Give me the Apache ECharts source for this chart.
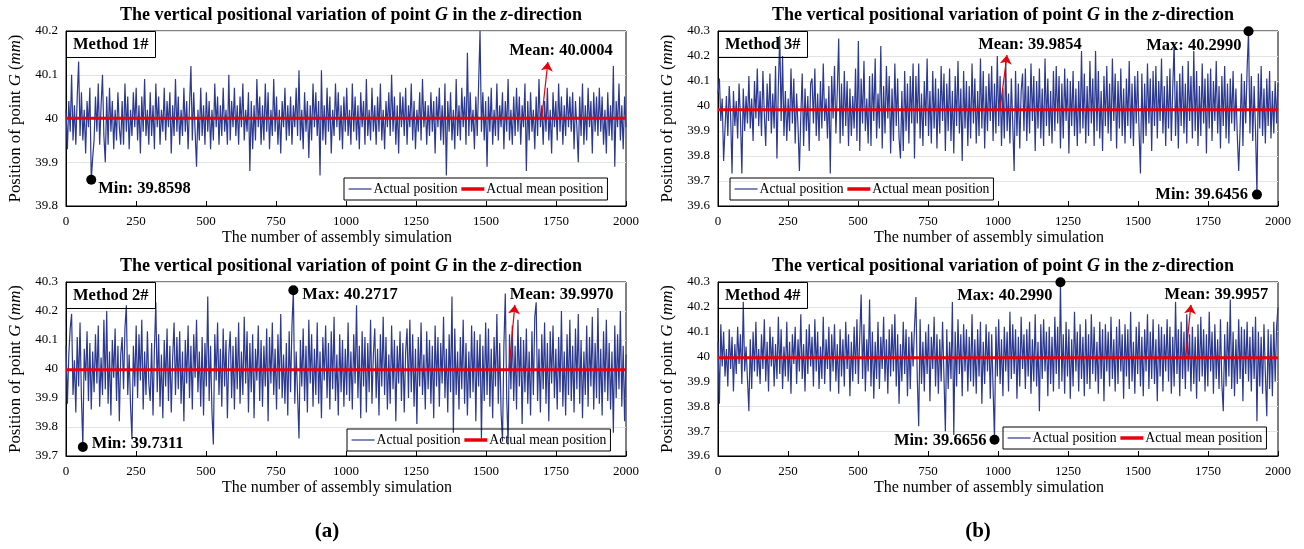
<!DOCTYPE html>
<html>
<head>
<meta charset="utf-8">
<title>Vertical positional variation of point G</title>
<script src="https://cdn.jsdelivr.net/npm/echarts@6/dist/echarts.min.js"></script>
<style>
  html, body { margin: 0; padding: 0; background: #fff; }
  #chart { width: 1304px; height: 549px; }
</style>
</head>
<body>
<div id="chart"></div>
<script>
// deviation of point G from 40 mm, in 0.01 mm, one value every ~5 simulations
const method1Dev = [
  2,-7,4,-3,10,-5,3,-6,5,13,-4,6,-5,2,-8,4,-2,7,-14.02,-9,
  -5,5,-3,8,-6,3,10,-4,-10,5,-6,7,-3,4,-7,2,-5,6,-2,-6,
  4,-6,8,-3,5,-7,2,-4,6,-2,7,-5,3,-8,5,-3,9,-4,2,-6,
  6,-4,3,-7,8,-2,5,-6,2,-3,7,-5,4,-2,6,-8,3,-4,9,-3,
  5,-6,2,-4,7,-3,4,-7,3,12,-5,6,-3,-11,2,-5,7,-4,3,-6,
  6,-3,4,-7,2,-5,8,-2,5,-6,3,-4,7,-3,2,-6,10,-5,4,-2,
  7,-4,3,-6,5,-2,8,-5,2,-3,6,-12,4,-7,3,-5,9,-2,5,-6,
  3,-5,8,-3,6,-7,2,-4,9,-3,5,-6,2,-8,4,-2,7,-5,3,-4,
  5,-6,3,-2,7,-4,11,-5,2,-7,6,-3,4,-9,3,-5,8,-2,6,-4,
  4,-13,11,-5,3,-6,7,-3,5,-8,2,-4,8,-2,6,-5,3,-7,5,-3,
  7,-4,2,-6,8,-3,5,-5,3,-7,6,-2,4,-6,9,-4,2,-5,7,-3,
  3,-6,5,-3,8,-5,2,-7,4,-2,6,-4,10,-3,5,-6,3,-8,6,-2,
  5,-4,7,-6,3,-2,8,-5,4,-7,2,-3,6,-5,9,-2,4,-6,3,-4,
  6,-3,4,-8,5,-2,7,-5,3,-6,8,-13,4,-3,6,-5,2,-7,9,-4,
  3,-5,7,-2,5,-6,15,-4,6,-3,2,-7,5,-4,8,20.03,-3,6,-5,4,
  -11,5,-3,7,-6,2,-4,8,-5,3,-2,6,-7,4,-3,9,-5,2,-6,5,
  -4,7,-3,5,-6,3,-2,8,-12,4,-5,6,-3,2,-7,5,-4,9,-2,3,
  -6,4,-3,7,-5,2,-8,6,-2,4,-5,8,-3,5,-6,3,-4,7,-2,5,
  -3,6,-7,4,-2,-10,5,-4,8,-6,3,-5,7,-2,4,-8,6,-3,5,-4,
  7,-3,5,-6,2,-8,6,-4,3,-5,12,-11,4,-2,8,-5,3,-7,5,-2
];
const method2Dev = [
  8,-12,5,14,19,-9,3,-15,11,-6,16,-10,-26.89,7,-4,13,-11,9,-14,6,
  -8,12,-5,15,-13,4,-9,17,-7,20,-12,6,-16,10,-3,14,-11,8,-18,5,
  11,-7,14,22,-9,5,-13,-24,8,-6,15,-10,12,-4,17,-14,6,-9,13,-5,
  -11,9,-16,7,23,-8,12,-13,5,-17,10,-6,14,-11,8,-15,4,16,-9,11,
  -7,13,-12,6,-18,10,-5,15,-10,8,-14,12,-3,17,-8,6,-13,11,-16,9,
  -6,25,-11,8,-15,-26,12,-4,16,-9,7,-13,14,-6,10,-17,5,13,-10,8,
  -14,11,-7,16,-12,6,-9,18,-5,13,-15,9,-8,12,-17,7,-4,15,-11,10,
  -13,8,-6,14,-18,11,-5,16,-9,7,-14,12,-7,19,-10,5,-12,9,-16,13,
  -8,15,27.17,-12,6,-9,-24,10,-6,14,-11,8,-15,17,-5,12,-13,7,-9,16,
  -12,6,-17,11,-4,15,-10,9,-14,13,-7,18,-11,5,-16,12,-8,10,-13,7,
  -9,16,-11,6,-14,12,-5,22,-10,8,-17,13,-6,11,-15,9,-8,17,-12,5,
  14,-10,7,-16,12,-6,18,-9,11,-14,5,-12,15,-7,10,-18,8,-5,13,-11,
  9,-15,6,14,-10,17,-8,12,-13,7,-19,11,-6,16,-9,5,-14,13,-7,10,
  -12,8,-17,15,-6,11,-13,9,-5,18,-10,7,-15,12,-8,25,-22,14,-9,6,
  -14,11,-7,17,-12,9,-16,6,-10,15,-8,13,-18,10,-6,12,-24,8,-11,16,
  -9,14,-13,7,-17,11,-6,19,-12,9,-15,-25,8,26,-10,-26,12,-7,15,-11,
  8,-14,17,-6,11,-19,10,-8,14,-12,6,-16,13,-9,18,23,-11,7,-15,12,
  -7,16,-12,9,-18,13,-5,15,-10,7,-14,11,-8,20,-13,6,-16,12,-9,17,
  -11,8,-15,14,-7,19,-12,10,-17,6,-9,15,-13,11,-6,18,-14,9,-10,21,
  -12,7,-16,13,-8,17,-11,9,-14,6,-22,15,-10,12,-7,20,-13,8,-18,5
];
const method3Dev = [
  5,11,-6,3,-22,-9,4,-12,8,-4,-27,6,-8,2,-13,9,-5,-27,7,-10,
  4,-7,12,-9,3,-14,10,-5,15,-8,6,-12,14,-3,-16,9,-6,13,-11,5,
  -9,16,-21,8,28,-6,20,-12,6,-14,3,-10,15,-7,11,-15,5,-8,-26,-4,
  13,-16,7,-10,4,-18,9,11,-7,15,-12,5,-14,10,-9,17,-6,3,-13,8,
  -27,12,-5,16,-11,6,27,-15,9,-12,14,-8,10,-16,7,-12,4,-9,15,-14,
  26,-18,11,-7,18,-10,3,-15,12,-16,13,-6,19,-13,5,-9,24,-17,8,-11,
  16,-5,12,-19,7,-14,17,-8,11,-13,-21,6,-18,14,-10,9,-15,12,-7,17,
  -21,12,-7,17,-13,5,-16,10,-8,19,-12,6,-15,14,-9,11,-17,7,-11,16,
  -6,13,-18,9,-10,15,-14,6,-19,12,-8,18,-11,7,-22,14,-9,10,-16,8,
  -13,17,-7,11,-15,6,-12,19,-9,14,-17,8,-10,13,-6,16,-14,9,-11,20,
  -8,12,-16,7,-13,18,-10,5,-15,11,-7,-26,14,-12,9,-17,6,13,-10,15,
  -14,8,-11,17,-6,12,-18,10,-9,15,-13,7,-16,19,-8,11,-12,6,-15,14,
  -10,16,-7,12,-17,9,-13,15,-6,11,-19,10,-8,14,-12,7,-16,10,-11,22,
  -9,13,-15,8,-12,18,-7,11,-16,22,-10,14,-13,6,-18,12,-8,16,-11,9,
  -14,19,-6,13,-17,10,-9,15,-12,7,-15,11,-8,18,-13,9,-16,12,-7,14,
  -10,-27,13,-15,9,-12,17,-7,11,-18,14,-8,16,-13,10,-6,19,-11,8,-16,
  12,-9,15,-14,7,25,-12,10,-17,13,-8,16,-11,9,-15,18,-6,12,-13,22,
  -10,14,-16,8,-12,17,-7,11,-19,13,-9,15,-14,10,-6,18,-11,8,-17,12,
  -8,16,-13,9,-15,11,-7,14,-10,7,-12,-26,-9,13,-16,10,-7,15,29.9,-11,
  12,-14,8,-10,-35.44,13,-9,16,-12,7,-15,11,-8,14,-13,6,-11,10,-7,9
];
const method4Dev = [
  6,-19,13,-4,10,-8,3,-12,11,-5,8,-14,5,-7,12,-3,9,-11,22,-6,
  4,-9,-22,7,-13,10,-6,14,-8,3,-11,9,-5,15,-10,6,-14,12,-4,8,
  -12,5,-9,16,-7,11,-13,4,-8,14,-10,6,-15,9,-3,12,-11,7,-6,17,
  -9,5,-14,11,-7,13,-4,8,-12,15,-6,10,-13,4,-9,16,-11,7,-5,12,
  -14,9,-6,13,-10,5,-15,11,-8,7,-12,14,-5,9,-16,6,-10,12,-7,15,
  -11,8,25,-9,13,-14,7,-6,23,-12,10,-17,6,-9,14,-13,8,-5,16,-10,
  7,-15,11,-8,13,-6,17,-12,9,-19,5,-10,14,-7,11,-16,8,-13,10,-4,
  12,24,-9,-28,15,-11,6,-14,10,-7,13,-18,8,-5,16,-12,9,-15,7,-10,
  14,-8,-30,11,-13,6,-9,22,-31.5,10,-12,15,-7,9,-16,13,-6,11,-14,8,
  -10,17,-12,7,-15,11,-8,14,-19,6,-11,13,-6,10,-17,9,-13,-33.44,12,-8,
  15,-11,7,-16,12,-6,10,-14,18,-9,13,-7,11,-17,8,-12,16,-5,9,-13,
  11,-8,14,-15,7,-10,17,-12,6,-22,13,-9,15,-6,10,-16,12,-11,8,-14,
  16,-7,12,-13,29.9,-10,9,-15,14,-8,11,-17,7,-12,18,-6,10,-14,13,-9,
  8,-16,15,-11,9,-13,17,-7,12,-10,6,-15,14,-9,11,-18,13,-6,10,-12,
  16,-9,7,-14,12,-11,15,-6,9,-17,13,-8,11,-13,18,-10,6,-15,12,-7,
  14,-12,8,-16,11,-6,17,-13,10,-9,15,-11,7,-18,13,-8,12,-14,9,-6,
  15,-10,12,-15,8,-12,22,-7,11,-16,14,-9,10,-13,17,-6,9,-14,12,-11,
  8,-17,13,-10,16,-8,11,-14,9,-12,18,-6,10,-15,13,-9,7,-13,15,-11,
  -22,9,-12,14,-8,23,-13,10,-16,7,-11,15,-9,12,-18,11,-7,14,-10,8,
  -14,12,-9,16,-26,10,-12,8,-15,13,-7,-24,11,-13,9,-16,14,-10,12,20
];
const meanPos = [40.0004, 39.9970, 39.9854, 39.9957];
const methodNames = ['Method 1#', 'Method 2#', 'Method 3#', 'Method 4#'];
const yMin = [39.8, 39.7, 39.6, 39.6];
const yMax = [40.2, 40.3, 40.3, 40.3];
const simCount = 2000;

const FONT = '"Liberation Serif", "Times New Roman", serif';
const BLUE = '#2b3990';
const RED = '#e8000b';

// one entry per subplot: placement of grid, legend and annotations
const panels = [
  { dev: method1Dev, grid: { left: 66, top: 31, width: 560, height: 175 }, legend: { left: 344, top: 178 },
    maxLabel: { position: 'left', distance: 3, offset: [0, 14] }, minLabel: { position: 'right', distance: 2, offset: [0, 9] },
    arrowX: 1699, arrowEnd: [1721, 40.129], meanText: [1768, 40.154] },
  { dev: method2Dev, grid: { left: 66, top: 282, width: 560, height: 174 }, legend: { left: 347, top: 429 },
    maxLabel: { position: 'right', distance: 4, offset: [0, 5] }, minLabel: { position: 'right', distance: 4, offset: [0, -3] },
    arrowX: 1582, arrowEnd: [1603, 40.221], meanText: [1770, 40.255] },
  { dev: method3Dev, grid: { left: 718, top: 31, width: 560, height: 175 }, legend: { left: 730, top: 178 },
    maxLabel: { position: 'left', distance: 2, offset: [0, 14] }, minLabel: { position: 'left', distance: 4, offset: [0, 0] },
    arrowX: 1007, arrowEnd: [1032, 40.204], meanText: [1114, 40.244] },
  { dev: method4Dev, grid: { left: 718, top: 282, width: 560, height: 174 }, legend: { left: 1003, top: 427 },
    maxLabel: { position: 'left', distance: 3, offset: [0, 13] }, minLabel: { position: 'left', distance: 3, offset: [0, 1] },
    arrowX: 1670, arrowEnd: [1689, 40.208], meanText: [1780, 40.248] }
];

const boldText = { fontFamily: FONT, fontSize: 16.5, fontWeight: 'bold', color: '#000' };
const titleText = { fontFamily: FONT, fontSize: 18, fontWeight: 'bold', color: '#000' };

let option = {
  animation: false,
  backgroundColor: '#fff',
  textStyle: { fontFamily: FONT },
  title: [],
  legend: [],
  grid: [],
  xAxis: [],
  yAxis: [],
  series: []
};

panels.forEach((p, k) => {
  const cx = p.grid.left + p.grid.width / 2;
  option.title.push({
    text: 'The vertical positional variation of point {i|G} in the {i|z}-direction',
    left: cx + 5, top: p.grid.top - 25, textAlign: 'center', padding: 0,
    textStyle: Object.assign({}, titleText, { rich: { i: Object.assign({}, titleText, { fontStyle: 'italic' }) } })
  });
  option.title.push({
    text: methodNames[k], left: p.grid.left, top: p.grid.top, padding: [5, 7],
    borderColor: '#000', borderWidth: 1, textStyle: boldText
  });
  option.legend.push({
    left: p.legend.left, top: p.legend.top, padding: [4, 4], itemGap: 2,
    itemWidth: 23, itemHeight: 14, borderColor: '#000', borderWidth: 1, selectedMode: false,
    itemStyle: { opacity: 0 },
    textStyle: { fontFamily: FONT, fontSize: 13.7, color: '#000', padding: [0, 0, 0, -3] },
    data: [
      { name: 'Actual position', lineStyle: { color: BLUE, width: 1.2 } },
      { name: 'Actual mean position', lineStyle: { color: RED, width: 3.5 } }
    ]
  });
  option.grid.push(Object.assign({ show: true, borderColor: '#000', borderWidth: 1, containLabel: false, outerBoundsMode: 'none' }, p.grid));
  option.xAxis.push({
    gridIndex: k, type: 'value', min: 0, max: simCount, interval: 250,
    name: 'The number of assembly simulation', nameLocation: 'middle', nameGap: 24,
    nameTextStyle: { fontFamily: FONT, fontSize: 16, color: '#000', padding: [0, 18, 0, 0] },
    axisLine: { show: true, lineStyle: { color: '#000' } },
    axisTick: { show: true, inside: true, length: 5, lineStyle: { color: '#000' } },
    axisLabel: { fontFamily: FONT, fontSize: 13, color: '#000', margin: 9, formatter: v => String(v) },
    splitLine: { show: false }
  });
  option.yAxis.push({
    gridIndex: k, type: 'value', min: yMin[k], max: yMax[k], interval: 0.1,
    name: 'Position of point {i|G} ({i|mm})', nameLocation: 'middle', nameGap: 42,
    nameTextStyle: { fontFamily: FONT, fontSize: 16.8, color: '#000',
      rich: { i: { fontFamily: FONT, fontSize: 16.8, fontStyle: 'italic', color: '#000' } } },
    axisLine: { show: true, lineStyle: { color: '#000' } },
    axisTick: { show: false },
    axisLabel: { fontFamily: FONT, fontSize: 13, color: '#000', margin: 8, formatter: v => String(+v.toFixed(1)) },
    splitLine: { show: true, lineStyle: { color: '#e3e3e3', width: 1 } }
  });

  const n = p.dev.length;
  option.series.push({
    name: 'Actual position', type: 'line', xAxisIndex: k, yAxisIndex: k,
    data: p.dev.map((d, i) => [i * simCount / (n - 1), 40 + d / 100]),
    symbol: 'none', lineStyle: { color: BLUE, width: 1.2 }, itemStyle: { color: BLUE }, z: 2,
    markPoint: {
      symbol: 'circle', symbolSize: 10, itemStyle: { color: '#000' }, silent: true,
      data: [
        { type: 'max', valueDim: 'y',
          label: Object.assign({ show: true, formatter: q => 'Max: ' + q.value.toFixed(4) }, boldText, p.maxLabel) },
        { type: 'min', valueDim: 'y',
          label: Object.assign({ show: true, formatter: q => 'Min: ' + q.value.toFixed(4) }, boldText, p.minLabel) }
      ]
    }
  });
  option.series.push({
    name: 'Actual mean position', type: 'line', xAxisIndex: k, yAxisIndex: k,
    data: [[0, meanPos[k]], [simCount, meanPos[k]]],
    symbol: 'none', lineStyle: { color: RED, width: 3 }, itemStyle: { color: RED }, z: 3,
    markLine: {
      silent: true, symbol: ['none', 'arrow'], symbolSize: 9,
      lineStyle: { color: RED, width: 1.2, type: 'solid' }, label: { show: false },
      data: [[{ coord: [p.arrowX, meanPos[k]] }, { coord: p.arrowEnd }]]
    },
    markPoint: {
      silent: true, symbol: 'circle', symbolSize: 1, itemStyle: { color: 'rgba(0,0,0,0)' },
      label: Object.assign({ show: true, position: 'inside', formatter: 'Mean: ' + meanPos[k].toFixed(4) }, boldText),
      data: [{ coord: p.meanText }]
    }
  });
});

option.title.push({ text: '(a)', left: 327, top: 521, textAlign: 'center', padding: 0,
  textStyle: { fontFamily: FONT, fontSize: 21, fontWeight: 'bold', color: '#000' } });
option.title.push({ text: '(b)', left: 978, top: 521, textAlign: 'center', padding: 0,
  textStyle: { fontFamily: FONT, fontSize: 21, fontWeight: 'bold', color: '#000' } });

let chart = echarts.init(document.getElementById('chart'));
chart.setOption(option);
</script>
</body>
</html>
